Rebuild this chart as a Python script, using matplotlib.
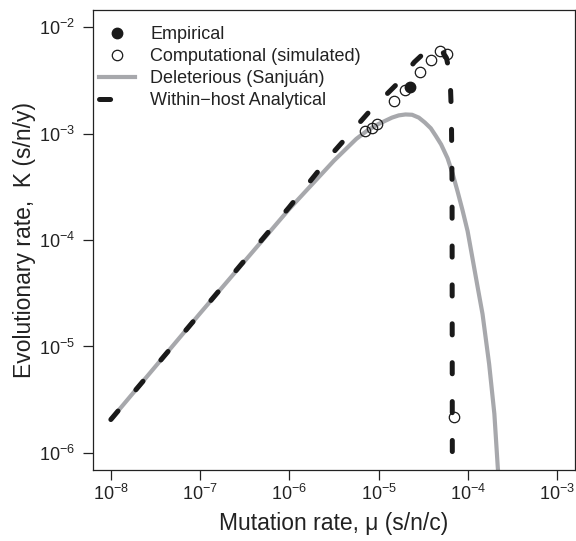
import numpy as np
import matplotlib
matplotlib.use('Agg')
import matplotlib.pyplot as plt
from matplotlib.lines import Line2D

plt.rcParams['font.family'] = ['Liberation Sans', 'DejaVu Sans']
plt.rcParams['mathtext.fontset'] = 'custom'
plt.rcParams['mathtext.rm'] = 'Liberation Sans'
plt.rcParams['mathtext.it'] = 'Liberation Sans:italic'
plt.rcParams['lines.scale_dashes'] = False

# deleterious (Sanjuan) curve
mu_del = [1e-8, 1e-7, 1e-6, 3.16e-6, 5.62e-6, 7.5e-6, 1e-5, 1.41e-5, 1.68e-5,
          2.0e-5, 2.37e-5, 2.82e-5, 3.29e-5, 3.84e-5, 4.37e-5, 5.01e-5, 5.92e-5,
          6.76e-5, 7.66e-5, 8.71e-5, 9.93e-5, 1.12e-4, 1.29e-4, 1.46e-4, 1.73e-4,
          1.98e-4, 2.16e-4, 2.29e-4]
k_del = [2.06e-6, 2.05e-5, 1.96e-4, 5.56e-4, 8.9e-4, 1.07e-3, 1.23e-3, 1.41e-3, 1.48e-3,
         1.51e-3, 1.50e-3, 1.41e-3, 1.27e-3, 1.12e-3, 9.5e-4, 7.9e-4, 5.86e-4,
         4.17e-4, 2.86e-4, 1.9e-4, 1.21e-4, 6.9e-5, 3.56e-5, 2.01e-5, 6.84e-6,
         2.33e-6, 7.4e-7, 4.0e-7]

# within-host analytical curve
mu_wh = [1e-8, 1e-6, 3.16e-6, 7.94e-6, 1.58e-5, 2.51e-5, 3.47e-5, 4.17e-5, 5.01e-5,
         5.75e-5, 6.31e-5, 6.53e-5, 6.65e-5, 6.7e-5]
k_wh = [2.06e-6, 2.04e-4, 6.76e-4, 1.62e-3, 2.88e-3, 4.68e-3, 6.03e-3, 6.46e-3, 6.17e-3,
        5.13e-3, 3.55e-3, 1.58e-3, 3.16e-4, 3.16e-7]

# simulated points
mu_sim = [7.1e-6, 8.4e-6, 9.66e-6, 1.49e-5, 1.97e-5, 2.88e-5, 3.86e-5, 4.89e-5, 5.9e-5, 6.9e-5]
k_sim = [1.05e-3, 1.12e-3, 1.24e-3, 2.01e-3, 2.55e-3, 3.77e-3, 4.95e-3, 6.0e-3, 5.55e-3, 2.17e-6]

# empirical point
mu_emp = [2.27e-5]
k_emp = [2.75e-3]

xticks = [1e-8, 1e-7, 1e-6, 1e-5, 1e-4, 1e-3]
xtick_labels = ['$10^{-8}$', '$10^{-7}$', '$10^{-6}$', '$10^{-5}$', '$10^{-4}$', '$10^{-3}$']
yticks = [1e-6, 1e-5, 1e-4, 1e-3, 1e-2]
ytick_labels = ['$10^{-6}$', '$10^{-5}$', '$10^{-4}$', '$10^{-3}$', '$10^{-2}$']

grey = '#a7a8ac'

fig = plt.figure(figsize=(5.76, 5.41), dpi=100)
ax = fig.add_axes([93 / 576, 1 - 470 / 541, (575 - 93) / 576, (470 - 10) / 541])

ax.plot(mu_del, k_del, color=grey, lw=3.0, solid_capstyle='butt', zorder=2)
ax.plot(mu_wh, k_wh, color='#1a1a1a', lw=3.6, dashes=(8, 20),
        dash_capstyle='round', zorder=3)
ax.plot(mu_sim, k_sim, 'o', ms=7.5, mfc='none', mec='#1a1a1a', mew=0.9, zorder=4)
ax.plot(mu_emp, k_emp, 'o', ms=7.5, mfc='#1a1a1a', mec='#1a1a1a', zorder=4)

ax.set_xscale('log')
ax.set_yscale('log')
ax.set_xlim(10 ** -8.2, 10 ** -2.8)
ax.set_ylim(10 ** -6.16, 10 ** -1.84)
ax.set_xticks(xticks)
ax.set_xticklabels(xtick_labels)
ax.set_yticks(yticks)
ax.set_yticklabels(ytick_labels)
ax.minorticks_off()
ax.tick_params(direction='out', length=7, width=0.9, labelsize=13, color='#222222',
               labelcolor='#222222')
ax.tick_params(axis='x', pad=3)
ax.tick_params(axis='y', pad=6)
for s in ax.spines.values():
    s.set_linewidth(0.9)
    s.set_color('#222222')

ax.set_xlabel('Mutation rate, μ (s/n/c)', fontsize=16.5, color='#222222', labelpad=6)
ax.set_ylabel('Evolutionary rate,  K (s/n/y)', fontsize=16.5, color='#222222', labelpad=2)

handles = [
    Line2D([], [], ls='none', marker='o', ms=7.5, mfc='#1a1a1a', mec='#1a1a1a'),
    Line2D([], [], ls='none', marker='o', ms=7.5, mfc='none', mec='#1a1a1a', mew=0.9),
    Line2D([], [], color=grey, lw=3.0),
    Line2D([], [], color='#1a1a1a', lw=3.6, dashes=(8, 20), dash_capstyle='round'),
]
labels = ['Empirical', 'Computational (simulated)', 'Deleterious (Sanjuán)',
          'Within\u2212host Analytical']
leg = ax.legend(handles, labels, loc='upper left', frameon=False, fontsize=13,
                handlelength=2.0, handletextpad=0.85, labelspacing=0.27,
                borderaxespad=0.4, bbox_to_anchor=(-0.018, 0.996))
for t in leg.get_texts():
    t.set_color('#222222')

fig.savefig('out.png', dpi=100)
